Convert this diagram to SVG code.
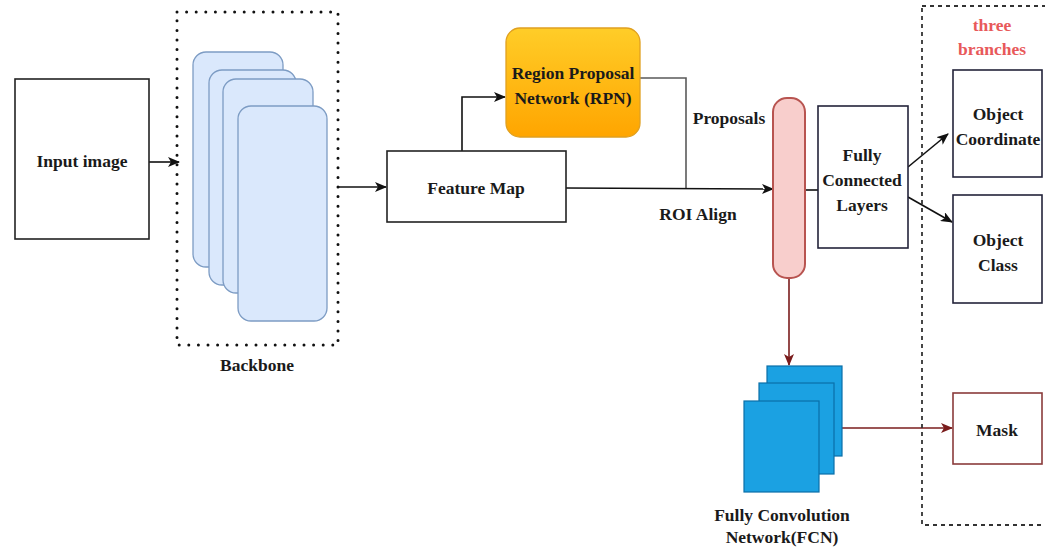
<svg xmlns="http://www.w3.org/2000/svg" width="1045" height="552" viewBox="0 0 1045 552">
  <style>
    .lbl { font-family: "Liberation Serif", "Times New Roman", serif; font-weight: bold; font-size: 17.5px; fill: #1a1a1a; text-anchor: middle; dominant-baseline: central; }
    .red { fill: #e8595a; }
    .box { fill: #ffffff; stroke: #222222; stroke-width: 1.6; }
    .navy { stroke: #23233a; }
    .maskbox { fill: #ffffff; stroke: #8a3b3b; stroke-width: 1.6; }
    .card { fill: #dae8fc; stroke: #7d9cc4; stroke-width: 1.3; }
    .fcn { fill: #1ba1e2; stroke: #0a6fa8; stroke-width: 1.2; }
    .dots { fill: none; stroke: #111111; stroke-width: 3; stroke-dasharray: 0 9.6; stroke-linecap: round; }
    .dash { fill: none; stroke: #333333; stroke-width: 1.8; stroke-dasharray: 4 4; }
    .wire { fill: none; stroke: #111111; stroke-width: 1.6; }
    .grey { fill: none; stroke: #5a5a5a; stroke-width: 1.6; }
    .dred { fill: none; stroke: #7a1c1c; stroke-width: 1.6; }
  </style>
  <defs>
    <marker id="arr" viewBox="0 0 12 10" refX="11" refY="5" markerWidth="12" markerHeight="10" markerUnits="userSpaceOnUse" orient="auto">
      <path d="M0,0 L12,5 L0,10 L3,5 Z" fill="#111111"/>
    </marker>
    <marker id="arrRed" viewBox="0 0 12 10" refX="11" refY="5" markerWidth="12" markerHeight="10" markerUnits="userSpaceOnUse" orient="auto">
      <path d="M0,0 L12,5 L0,10 L3,5 Z" fill="#7a1c1c"/>
    </marker>
    <linearGradient id="rpnFill" x1="0" y1="0" x2="0" y2="1">
      <stop offset="0" stop-color="#ffcd28"/>
      <stop offset="1" stop-color="#ffa500"/>
    </linearGradient>
  </defs>

  <!-- connectors -->
  <g id="connectors">
    <line class="wire" x1="149" y1="162" x2="179" y2="162" marker-end="url(#arr)"/>
    <line class="wire" x1="338" y1="187" x2="386" y2="187" marker-end="url(#arr)"/>
    <polyline class="wire" points="462,151 462,97 505,97" marker-end="url(#arr)"/>
    <polyline class="grey" points="640,78 686,78 686,188"/>
    <line class="wire" x1="566" y1="188" x2="773" y2="189" marker-end="url(#arr)"/>
    <line class="wire" x1="805" y1="190" x2="818" y2="190"/>
    <line class="wire" x1="908" y1="167" x2="948" y2="134" marker-end="url(#arr)"/>
    <line class="wire" x1="908" y1="197" x2="952" y2="222" marker-end="url(#arr)"/>
    <line class="dred" x1="789" y1="278" x2="789" y2="365" marker-end="url(#arrRed)"/>
    <line class="dred" x1="842" y1="428" x2="952" y2="428" marker-end="url(#arrRed)"/>
  </g>

  <g id="input-image">
    <rect class="box" x="15" y="79" width="134" height="160"/>
    <text class="lbl" x="82" y="161">Input image</text>
  </g>

  <g id="backbone">
    <rect class="dots" x="177" y="12" width="161" height="333"/>
    <rect class="card" x="193" y="52" width="90" height="215" rx="13"/>
    <rect class="card" x="209" y="70" width="87" height="215" rx="13"/>
    <rect class="card" x="223" y="79" width="90" height="214" rx="13"/>
    <rect class="card" x="238" y="106" width="89" height="215" rx="13"/>
    <text class="lbl" x="257" y="365">Backbone</text>
  </g>

  <g id="feature-map">
    <rect class="box" x="387" y="151" width="179" height="71"/>
    <text class="lbl" x="476" y="188">Feature Map</text>
  </g>

  <g id="rpn">
    <rect x="506" y="28" width="134" height="109" rx="14" fill="url(#rpnFill)" stroke="#e0a020" stroke-width="1.3"/>
    <text class="lbl" x="573" y="73">Region Proposal</text>
    <text class="lbl" x="573" y="98">Network (RPN)</text>
  </g>

  <g id="labels">
    <text class="lbl" x="729" y="118">Proposals</text>
    <text class="lbl" x="698" y="214">ROI Align</text>
  </g>

  <g id="roi-align">
    <rect x="773" y="98" width="32" height="180" rx="14" fill="#f8cecc" stroke="#b85450" stroke-width="2"/>
  </g>

  <g id="fc-layers">
    <rect class="box navy" x="818" y="106" width="90" height="142"/>
    <text class="lbl" x="862" y="155">Fully</text>
    <text class="lbl" x="862" y="180">Connected</text>
    <text class="lbl" x="862" y="205">Layers</text>
  </g>

  <g id="branches">
    <rect class="dash" x="922" y="6" width="140" height="519"/>
    <text class="lbl red" x="992" y="25">three</text>
    <text class="lbl red" x="992" y="49">branches</text>
  </g>

  <g id="object-coordinate">
    <rect class="box navy" x="953" y="70" width="89" height="107"/>
    <text class="lbl" x="998" y="114">Object</text>
    <text class="lbl" x="998" y="139">Coordinate</text>
  </g>

  <g id="object-class">
    <rect class="box navy" x="953" y="195" width="89" height="108"/>
    <text class="lbl" x="998" y="240">Object</text>
    <text class="lbl" x="998" y="265">Class</text>
  </g>

  <g id="fcn">
    <rect class="fcn" x="767" y="366" width="75" height="90"/>
    <rect class="fcn" x="759" y="383" width="75" height="91"/>
    <rect class="fcn" x="744" y="401" width="75" height="91"/>
    <text class="lbl" x="782" y="515">Fully Convolution</text>
    <text class="lbl" x="782" y="537">Network(FCN)</text>
  </g>

  <g id="mask">
    <rect class="maskbox" x="953" y="393" width="89" height="71"/>
    <text class="lbl" x="997" y="430">Mask</text>
  </g>
</svg>
